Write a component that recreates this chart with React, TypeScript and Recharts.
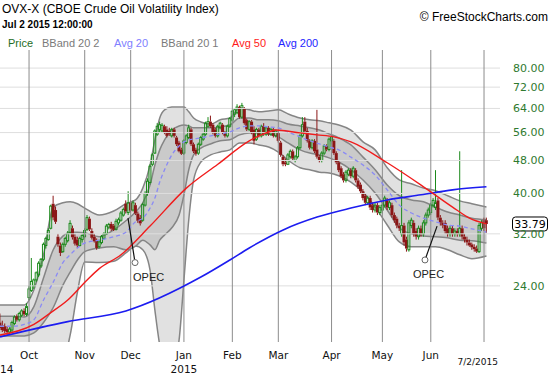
import React from 'react';
import { ComposedChart, Area, Line, Bar, XAxis, YAxis, ReferenceLine, ReferenceDot } from 'recharts';

// daily OHLC, Sep 15 2014 .. Jul 2 2015 (trading days)
const opens = [
  19.6, 19.3, 19.2, 18.9, 18.6, 18.8, 19.5, 20.3, 19.9, 20.4, 20.9, 20.5,
  22.5, 23.4, 24.0, 24.8, 25.5, 26.8, 27.8, 30.0, 31.0, 33.0, 37.8, 36.5, 31.5, 30.0, 29.0, 30.2, 30.8, 32.2, 33.0, 31.5, 31.0, 30.0, 31.0,
  31.5, 32.8, 34.8, 32.5, 31.5, 30.8, 29.8, 30.5, 31.2, 32.0, 33.2, 33.8, 33.5, 32.8, 34.0, 34.5, 35.5, 37.8, 36.0,
  38.0, 36.5, 37.5, 35.8, 35.0, 34.5, 37.5, 40.0, 42.5, 47.0, 50.0, 55.5, 57.0, 56.5, 58.0, 57.0, 56.5, 55.0, 57.0, 54.5, 53.0, 51.0,
  50.0, 53.0, 54.5, 57.0, 52.5, 51.0, 50.0, 52.5, 54.0, 55.5, 58.0, 59.5, 58.5, 57.0, 55.0, 57.5, 58.5, 56.0, 55.0, 58.0,
  60.0, 62.0, 62.5, 64.5, 61.0, 64.0, 60.0, 57.0, 59.5, 57.0, 54.0, 57.0, 55.0, 58.0, 55.5, 57.5, 55.5, 57.0, 55.0,
  56.0, 53.0, 49.0, 47.5, 47.0, 49.0, 50.5, 48.0, 49.0, 51.5, 55.0, 59.5, 56.5, 53.5, 51.5, 53.5, 51.0, 49.0, 48.0, 50.0, 52.0, 51.0,
  53.5, 53.5, 50.0, 47.5, 46.0, 44.5, 43.0, 44.5, 45.5, 44.0, 45.5, 43.0, 42.0, 40.5, 39.5, 38.0, 39.0, 37.5, 36.5, 37.5, 36.0,
  36.5, 37.5, 38.5, 37.0, 37.5, 35.5, 34.8, 33.5, 32.0, 33.5, 31.0, 29.3, 33.5, 34.0, 32.5, 31.5, 33.0, 32.0, 34.0, 35.5,
  36.0, 37.5, 37.0, 38.5, 35.0, 34.0, 34.0, 33.0, 32.0, 33.0, 32.0, 32.5, 32.0, 33.0, 31.5, 31.0, 30.5, 30.2, 29.8, 29.5, 29.0, 33.0,
  34.5, 34.5,
];
const highs = [
  20.6, 19.8, 19.5, 19.2, 19.1, 19.8, 20.4, 20.5, 20.8, 21.1, 21.2, 21.8,
  24.0, 28.0, 25.0, 26.0, 27.5, 28.0, 30.5, 31.5, 33.0, 37.6, 39.5, 37.2, 32.0, 30.5, 30.5, 31.5, 32.5, 34.5, 33.5, 32.0, 31.5, 31.5, 32.0,
  33.0, 35.5, 35.2, 33.0, 32.0, 31.2, 31.0, 31.8, 32.3, 33.8, 34.0, 34.2, 33.8, 34.8, 35.0, 36.3, 37.0, 38.5, 40.5,
  38.5, 38.5, 38.0, 36.2, 35.5, 38.0, 40.5, 43.5, 47.0, 50.0, 57.0, 59.0, 59.5, 59.0, 58.5, 58.0, 57.5, 57.5, 57.5, 55.0, 53.5, 51.5,
  54.0, 55.5, 58.5, 57.5, 53.0, 51.5, 53.0, 55.0, 56.0, 59.5, 61.0, 61.5, 59.0, 57.5, 58.5, 59.5, 59.0, 56.5, 58.5, 61.0,
  63.5, 64.0, 65.5, 65.0, 66.0, 64.5, 60.5, 60.0, 60.0, 58.0, 57.5, 57.5, 58.5, 59.0, 58.0, 58.0, 57.5, 57.5, 57.0,
  56.5, 53.5, 49.5, 48.5, 50.0, 51.0, 51.0, 49.5, 52.0, 55.5, 61.0, 61.0, 57.5, 54.0, 54.0, 54.0, 63.5, 49.5, 50.5, 52.5, 52.5, 54.5,
  55.0, 54.0, 50.5, 48.0, 46.5, 45.0, 45.5, 46.0, 46.0, 46.5, 46.0, 43.5, 42.5, 41.0, 40.0, 39.5, 39.5, 38.0, 38.0, 38.0, 37.5,
  38.0, 39.5, 39.0, 38.5, 38.0, 36.0, 35.2, 34.0, 45.5, 34.0, 31.5, 34.5, 35.0, 34.5, 33.0, 33.5, 33.5, 34.5, 36.0, 37.0,
  38.0, 39.0, 45.5, 39.0, 35.5, 34.5, 34.5, 33.5, 33.5, 33.5, 33.0, 33.0, 50.5, 33.5, 32.0, 31.5, 31.0, 30.5, 30.2, 30.0, 34.0, 34.5,
  35.0, 35.0,
];
const lows = [
  18.8, 18.6, 18.5, 18.3, 18.4, 18.6, 19.3, 19.7, 19.7, 20.2, 20.3, 20.3,
  22.2, 23.2, 23.6, 24.5, 25.2, 26.5, 27.5, 29.5, 30.8, 32.8, 34.5, 33.8, 29.8, 28.3, 28.8, 29.8, 30.5, 32.0, 31.0, 30.0, 29.6, 29.8, 30.5,
  31.2, 32.5, 32.5, 31.0, 30.5, 29.3, 29.5, 30.2, 31.0, 31.8, 32.8, 32.5, 32.5, 32.6, 33.5, 34.2, 35.2, 35.8, 35.5,
  36.0, 36.2, 35.5, 34.0, 33.5, 34.2, 37.2, 39.5, 42.0, 46.5, 49.8, 55.0, 56.0, 56.0, 55.5, 54.5, 55.0, 54.5, 54.5, 52.0, 50.2, 49.5,
  49.5, 52.5, 54.0, 52.0, 50.0, 49.3, 49.5, 52.0, 53.5, 55.0, 57.5, 57.5, 55.5, 54.5, 54.5, 57.0, 55.5, 54.5, 54.5, 57.5,
  59.5, 61.0, 62.0, 60.5, 60.5, 58.5, 56.5, 56.5, 55.5, 52.5, 53.5, 54.5, 54.5, 55.0, 55.0, 55.0, 55.0, 54.5, 54.5,
  53.0, 49.0, 46.5, 46.5, 46.8, 48.5, 48.0, 47.5, 48.5, 51.0, 54.5, 56.0, 53.0, 51.0, 51.0, 50.0, 48.5, 47.5, 47.5, 49.5, 50.5, 50.5,
  52.5, 49.5, 47.0, 45.0, 43.5, 42.5, 42.5, 44.0, 43.5, 43.5, 42.5, 41.0, 40.0, 38.5, 37.5, 37.5, 36.5, 36.0, 36.0, 35.5, 35.5,
  35.8, 37.0, 36.5, 36.5, 35.0, 34.0, 33.0, 32.5, 31.5, 30.0, 29.0, 29.0, 33.0, 31.5, 31.0, 31.0, 31.5, 31.5, 33.5, 35.0,
  35.5, 37.0, 36.5, 34.5, 33.5, 33.0, 32.0, 31.5, 31.5, 31.5, 31.5, 31.5, 31.5, 31.0, 30.5, 30.0, 29.8, 29.3, 29.0, 28.8, 28.8, 32.5,
  32.5, 32.2,
];
const closes = [
  19.0, 18.8, 18.7, 18.6, 18.9, 19.6, 20.2, 19.9, 20.6, 20.9, 20.5, 21.4,
  23.6, 24.6, 24.8, 25.8, 27.2, 27.8, 30.2, 31.2, 32.6, 37.3, 35.0, 34.2, 30.2, 28.8, 30.2, 31.2, 32.0, 33.9, 31.4, 30.3, 30.0, 31.2, 31.7,
  32.6, 35.0, 32.8, 31.3, 30.7, 29.6, 30.6, 31.5, 32.0, 33.4, 33.7, 32.9, 32.7, 34.3, 34.6, 35.9, 36.6, 36.2, 38.0,
  36.4, 38.0, 35.8, 34.4, 33.9, 37.6, 40.0, 42.8, 46.5, 49.5, 56.5, 58.0, 58.5, 58.3, 56.0, 55.0, 55.5, 57.0, 55.0, 52.5, 50.5, 49.8,
  53.5, 55.0, 57.5, 52.5, 50.5, 49.8, 52.5, 54.5, 55.5, 59.0, 59.5, 58.0, 56.0, 55.0, 58.0, 59.0, 56.0, 55.0, 58.0, 60.5,
  63.0, 63.5, 64.5, 61.0, 65.0, 59.0, 57.0, 59.5, 56.0, 53.5, 57.0, 55.0, 58.0, 55.5, 57.5, 55.5, 57.0, 55.0, 56.5,
  53.5, 49.5, 47.0, 47.0, 49.5, 50.5, 48.5, 49.0, 51.5, 55.0, 58.5, 56.5, 53.5, 51.5, 53.5, 50.5, 49.0, 48.0, 50.0, 52.0, 51.0, 54.0,
  54.5, 50.0, 47.5, 45.5, 44.0, 43.0, 45.0, 45.5, 44.0, 46.0, 43.0, 41.5, 40.5, 39.0, 38.0, 39.0, 37.0, 36.5, 37.5, 36.0, 37.0,
  37.5, 39.0, 37.0, 38.0, 35.5, 34.5, 33.5, 33.0, 33.5, 30.5, 29.5, 34.0, 34.5, 32.0, 31.5, 33.0, 32.0, 34.0, 35.5, 36.5,
  37.5, 38.5, 38.0, 35.0, 34.0, 33.5, 32.5, 32.0, 33.0, 32.0, 32.5, 32.0, 33.0, 31.5, 31.0, 30.5, 30.0, 29.7, 29.4, 29.0, 33.5, 34.0,
  33.0, 33.79,
];

// Bollinger bands / 20-day average, read off at roughly weekly points
const bandIdx = [0, 5, 10, 14, 18, 22, 26, 29, 32, 35, 41, 47, 52, 56, 59, 62, 64, 66, 68, 71, 74, 76, 78, 80, 83, 87, 91, 95, 99, 103, 107, 111, 115, 119, 124, 128, 132, 136, 140, 145, 150, 155, 160, 165, 170, 175, 180, 185, 190, 195, 201];
const bb2Upper = [21.6, 21.6, 21.6, 23.5, 28.5, 37.1, 38.0, 38.2, 37.8, 36.9, 35.5, 36.3, 37.8, 38.6, 41.2, 46.8, 53.8, 60.7, 63.5, 64.5, 64.5, 64.5, 62.8, 60.7, 59.4, 58.7, 60.1, 60.7, 64.2, 63.5, 62.8, 63.1, 63.5, 62.1, 60.7, 60.1, 59.8, 59.1, 58.4, 56.8, 53.2, 50.9, 46.1, 43.1, 42.2, 41.2, 40.6, 39.5, 38.4, 37.8, 37.1];
const bb1Upper = [20.3, 20.3, 20.2, 21.4, 25.1, 29.3, 31.6, 32.3, 32.3, 32.2, 31.5, 32.7, 34.4, 36.1, 38.0, 41.9, 46.8, 50.9, 53.8, 56.8, 58.1, 58.4, 58.1, 57.5, 57.5, 57.5, 57.8, 58.4, 60.7, 60.7, 60.1, 60.1, 59.8, 58.7, 58.1, 57.5, 56.8, 55.6, 54.4, 52.3, 48.9, 45.6, 41.9, 39.5, 38.6, 38.2, 37.1, 36.1, 35.5, 34.9, 34.6];
const avg20 = [19.2, 19.2, 19.4, 19.9, 22.2, 24.5, 27.3, 28.5, 29.6, 30.4, 30.9, 31.5, 32.3, 34.2, 34.9, 36.9, 39.0, 42.6, 45.6, 49.5, 52.0, 53.2, 53.8, 54.1, 54.4, 55.0, 55.6, 56.2, 57.5, 58.1, 58.1, 57.8, 57.5, 56.2, 54.7, 53.5, 52.6, 51.7, 50.9, 48.9, 46.8, 44.3, 40.8, 37.5, 35.9, 34.9, 34.2, 33.6, 33.4, 32.9, 32.3];
const bb1Lower = [18.2, 18.2, 18.2, 18.5, 19.6, 21.3, 24.1, 25.9, 27.7, 29.0, 29.6, 29.8, 29.3, 29.9, 30.9, 30.1, 29.3, 30.9, 31.8, 33.1, 35.5, 39.7, 45.6, 49.5, 51.4, 52.6, 53.5, 53.8, 55.3, 55.9, 55.9, 55.6, 54.7, 52.9, 50.9, 50.0, 49.5, 48.7, 47.6, 45.6, 43.1, 40.1, 36.5, 33.1, 32.0, 31.6, 31.5, 31.3, 30.9, 30.8, 30.4];
const bb2Lower = [17.3, 17.2, 17.1, 16.7, 16.1, 15.8, 15.9, 18.3, 23.2, 27.4, 27.3, 27.5, 28.8, 29.9, 29.3, 26.2, 21.0, 17.3, 15.5, 15.1, 17.8, 24.8, 34.6, 43.1, 47.6, 49.5, 50.3, 50.9, 52.9, 52.9, 52.3, 51.7, 50.3, 48.1, 46.1, 45.6, 45.0, 44.8, 44.1, 42.6, 40.3, 37.1, 33.6, 30.6, 29.8, 29.8, 29.8, 29.3, 28.5, 27.9, 28.3];

const avg50Idx = [0, 14, 21, 28, 36, 41, 50, 62, 77, 90, 103, 110, 114, 124, 131, 138, 145, 160, 174, 187, 194, 201];
const avg50 = [18.3, 19.4, 20.7, 22.2, 24.8, 26.4, 28.5, 33.4, 41.2, 47.0, 53.5, 55.9, 56.8, 55.9, 55.3, 54.7, 53.2, 47.4, 41.9, 37.1, 34.9, 33.8];

const avg200Idx = [0, 28, 52, 83, 95, 103, 117, 131, 145, 160, 174, 187, 201];
const avg200 = [18.1, 19.7, 20.9, 25.2, 27.7, 29.6, 32.7, 35.1, 36.9, 38.6, 39.7, 40.8, 41.5];

const monthTicks = [12, 35, 54, 76, 96, 115, 137, 158, 178, 200];
const monthLabels = ['Oct', 'Nov', 'Dec', 'Jan', 'Feb', 'Mar', 'Apr', 'May', 'Jun', '7/2/2015'];
const priceTicks = [24, 32, 40, 48, 56, 64, 72, 80];
const lastPrice = 33.79;

const opecNotes = [
  { x1: 52.9, y1: 34.9, x2: 55.8, y2: 27.3, dx: -2 },
  { x1: 180.6, y1: 33.4, x2: 175.6, y2: 27.7, dx: -12 },
];

const legendItems = [
  { text: 'Price', color: '#1f6e1f', x: 8 },
  { text: 'BBand 20 2', color: '#7a7a7a', x: 42 },
  { text: 'Avg 20', color: '#8080ff', x: 114 },
  { text: 'BBand 20 1', color: '#7a7a7a', x: 161 },
  { text: 'Avg 50', color: '#ff1a1a', x: 232 },
  { text: 'Avg 200', color: '#2424ff', x: 278 },
];

const FONT = '"Liberation Sans", Arial, sans-serif';
const TICK_FONT = '"DejaVu Sans", Verdana, sans-serif';

const rows = closes.map((c, i) => {
  const row: any = { i, o: opens[i], h: highs[i], l: lows[i], c, hl: [lows[i], highs[i]] };
  const b = bandIdx.indexOf(i);
  if (b >= 0) {
    row.bb2 = [bb2Lower[b], bb2Upper[b]];
    row.bb1 = [bb1Lower[b], bb1Upper[b]];
    row.mid = avg20[b];
  }
  const m = avg50Idx.indexOf(i);
  if (m >= 0) row.ma50 = avg50[m];
  const n = avg200Idx.indexOf(i);
  if (n >= 0) row.ma200 = avg200[n];
  return row;
});

function Candle(props: any) {
  const { x, y, width, height, payload } = props;
  if (!payload || height == null || isNaN(y)) return null;
  const cx = x + width / 2;
  const lh = Math.log(payload.h);
  const ll = Math.log(payload.l);
  const k = height / (lh - ll);
  const py = (v: number) => y + (lh - Math.log(v)) * k;
  const up = payload.c >= payload.o;
  const top = py(Math.max(payload.o, payload.c));
  const bot = py(Math.min(payload.o, payload.c));
  const col = up ? '#1c8a1c' : '#8b1616';
  return (
    <g>
      <line x1={cx} x2={cx} y1={y} y2={top} stroke={col} strokeWidth={1} />
      <line x1={cx} x2={cx} y1={bot} y2={y + height} stroke={col} strokeWidth={1} />
      {up ? (
        <rect x={cx - 1} y={top} width={2} height={Math.max(bot - top, 1)} fill="none" stroke={col} strokeWidth={1} />
      ) : (
        <rect x={cx - 1.5} y={top} width={3} height={Math.max(bot - top, 1)} fill={col} />
      )}
    </g>
  );
}

function MonthTick(props: any) {
  const { x, y, payload } = props;
  const label = monthLabels[monthTicks.indexOf(payload.value)];
  const style = { fontFamily: TICK_FONT, fontSize: 10.5, fill: '#111' };
  if (label === '7/2/2015') {
    return (
      <text x={x + 14} y={y + 15} textAnchor="end" style={{ ...style, fontSize: 9 }}>
        {label}
      </text>
    );
  }
  return (
    <g>
      <text x={x} y={y + 9} textAnchor="middle" style={style}>{label}</text>
      {label === 'Jan' && <text x={x} y={y + 23} textAnchor="middle" style={style}>2015</text>}
      {label === 'Oct' && <text x={0} y={y + 23} textAnchor="start" style={style}>14</text>}
    </g>
  );
}

function PriceTag(props: any) {
  const { viewBox } = props;
  if (!viewBox) return null;
  const x = viewBox.x + viewBox.width + 12.5;
  const y = viewBox.y;
  return (
    <g>
      <rect x={x} y={y - 7} width={35} height={14} rx={3} fill="#fff" stroke="#000" strokeWidth={1} />
      <text x={x + 17.5} y={y + 4} textAnchor="middle" style={{ fontFamily: TICK_FONT, fontSize: 11, fill: '#000' }}>
        {lastPrice.toFixed(2)}
      </text>
    </g>
  );
}

function OpecLabel(dx: number) {
  return (props: any) => {
    const { viewBox } = props;
    if (!viewBox) return null;
    const cx = viewBox.x + viewBox.width / 2;
    const bottom = viewBox.y + viewBox.height;
    return (
      <text x={cx + dx} y={bottom + 15} style={{ fontFamily: FONT, fontSize: 11, fill: '#222' }}>
        OPEC
      </text>
    );
  };
}

export default function App() {
  return (
    <div style={{ position: 'absolute', left: 0, top: 0, width: 550, height: 375, background: '#fff' }}>
      <ComposedChart width={550} height={375} data={rows} margin={{ top: 50, right: 0, bottom: 0, left: 0 }}>
        <XAxis
          dataKey="i"
          type="number"
          domain={[0, 206.6]}
          allowDataOverflow
          ticks={monthTicks}
          interval={0}
          tick={(p: any) => <MonthTick {...p} />}
          tickLine={false}
          axisLine={false}
          height={33}
        />
        <YAxis
          orientation="right"
          scale="log"
          domain={[17.6, 88.4]}
          allowDataOverflow
          ticks={priceTicks}
          interval={0}
          tickFormatter={(v: number) => Number(v).toFixed(2)}
          tick={{ fill: '#2f7a2f', fontSize: 11, fontFamily: TICK_FONT }}
          tickLine={false}
          axisLine={false}
          tickMargin={7}
          width={50}
        />
        <Area
          dataKey="bb2"
          type="monotone"
          connectNulls
          fill="#e1e1e1"
          fillOpacity={1}
          stroke="#858585"
          strokeWidth={1.5}
          dot={false}
          activeDot={false}
          isAnimationActive={false}
        />
        <Area
          dataKey="bb1"
          type="monotone"
          connectNulls
          fill="#cacaca"
          fillOpacity={1}
          stroke="#858585"
          strokeWidth={1.5}
          dot={false}
          activeDot={false}
          isAnimationActive={false}
        />
        {priceTicks.map((v) => (
          <ReferenceLine key={'h' + v} y={v} stroke="#dedede" strokeWidth={1} />
        ))}
        {monthTicks.map((t) => (
          <ReferenceLine key={'v' + t} x={t} stroke="#8c8c8c" strokeWidth={1} />
        ))}
        <Line
          dataKey="mid"
          type="monotone"
          connectNulls
          stroke="#8a8af5"
          strokeWidth={1.3}
          strokeDasharray="4 3"
          dot={false}
          activeDot={false}
          isAnimationActive={false}
        />
        <Line
          dataKey="ma200"
          type="monotone"
          connectNulls
          stroke="#1c1cf0"
          strokeWidth={1.6}
          dot={false}
          activeDot={false}
          isAnimationActive={false}
        />
        <Line
          dataKey="ma50"
          type="monotone"
          connectNulls
          stroke="#f01c1c"
          strokeWidth={1.4}
          dot={false}
          activeDot={false}
          isAnimationActive={false}
        />
        <Bar dataKey="hl" barSize={3} shape={(p: any) => <Candle {...p} />} isAnimationActive={false} />
        {opecNotes.map((n, k) => (
          <ReferenceLine
            key={'ol' + k}
            segment={[{ x: n.x1, y: n.y1 }, { x: n.x2, y: n.y2 }]}
            stroke="#111"
            strokeWidth={1.2}
          />
        ))}
        {opecNotes.map((n, k) => (
          <ReferenceDot
            key={'od' + k}
            x={n.x2}
            y={n.y2}
            r={3}
            fill="#fff"
            stroke="#666"
            strokeWidth={1}
            label={OpecLabel(n.dx)}
          />
        ))}
        <ReferenceLine y={lastPrice} stroke="none" ifOverflow="visible" label={(p: any) => <PriceTag {...p} />} />
      </ComposedChart>
      <svg width={550} height={375} style={{ position: 'absolute', left: 0, top: 0, pointerEvents: 'none' }}>
        <text x={2} y={13} style={{ fontFamily: FONT, fontSize: 12, fill: '#000' }}>
          OVX-X (CBOE Crude Oil Volatility Index)
        </text>
        <text x={2} y={28} style={{ fontFamily: FONT, fontSize: 10, fontWeight: 'bold', fill: '#000' }}>
          Jul 2 2015 12:00:00
        </text>
        <text x={548} y={21} textAnchor="end" style={{ fontFamily: FONT, fontSize: 12, fill: '#000' }}>
          © FreeStockCharts.com
        </text>
        {legendItems.map((it) => (
          <text key={it.text} x={it.x} y={47} style={{ fontFamily: FONT, fontSize: 11, fill: it.color }}>
            {it.text}
          </text>
        ))}
      </svg>
    </div>
  );
}
